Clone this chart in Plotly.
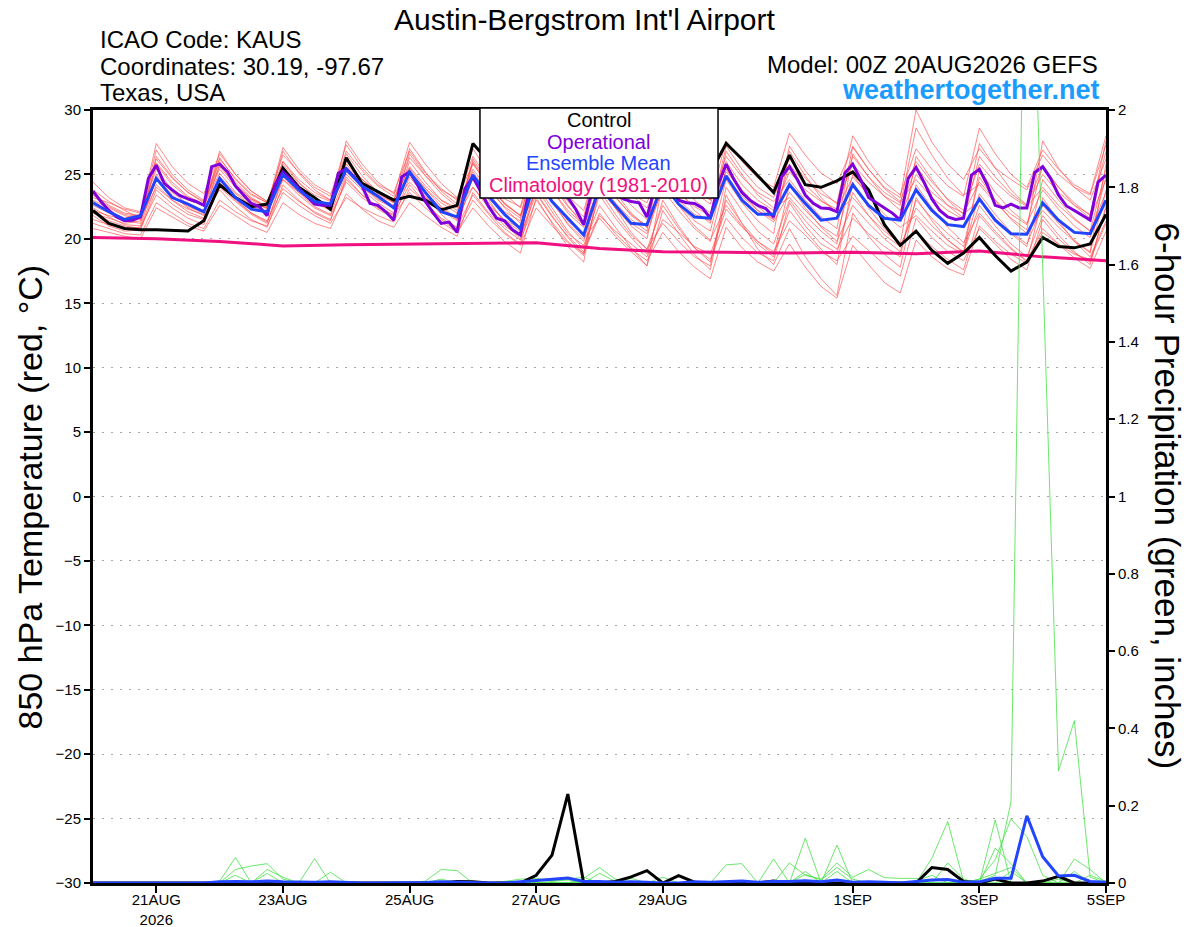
import pandas as pd
import plotly.graph_objects as go

# time axes (GEFS 6-hourly, GFS operational 3-hourly, daily climatology)
t6 = pd.date_range('2026-08-20 00:00', periods=65, freq='6h')
t3 = pd.date_range('2026-08-20 00:00', periods=129, freq='3h')
t24 = pd.date_range('2026-08-20 00:00', periods=17, freq='D')

# 850 hPa temperature (C)
control_t = [22.2, 21.2, 20.8, 20.7, 20.7, 20.65, 20.6, 21.4,
             24.2, 23.2, 22.5, 22.7, 25.5, 24.0, 23.2, 22.3,
             26.3, 24.3, 23.65, 23.0, 23.3, 23.0, 22.25, 22.6,
             27.4, 26.0, 25.0, 24.3, 26.5, 25.3, 24.6, 24.0,
             26.0, 25.0, 24.2, 23.8, 25.8, 25.0, 24.4, 25.1,
             27.4, 26.2, 24.9, 23.6, 26.5, 24.2, 24.0, 24.5,
             25.2, 23.8, 21.1, 19.5, 20.6, 19.1, 18.1, 18.9,
             20.1, 18.7, 17.5, 18.2, 20.1, 19.4, 19.3, 19.6, 21.9]

mean_t = [22.8, 22.1, 21.5, 21.8, 24.7, 23.2, 22.7, 22.1,
          24.7, 23.2, 22.3, 22.1, 25.0, 23.8, 22.9, 22.7,
          25.4, 24.1, 23.3, 22.4, 25.2, 23.6, 22.1, 21.7,
          24.95, 23.3, 21.9, 20.8, 24.8, 22.9, 21.6, 20.3,
          24.0, 22.6, 21.2, 21.1, 24.3, 22.7, 21.7, 21.6,
          24.9, 23.0, 21.9, 21.9, 24.2, 22.75, 21.45, 21.6,
          24.2, 22.6, 21.6, 21.45, 23.8, 22.2, 21.1, 20.95,
          23.1, 21.45, 20.4, 20.35, 22.8, 21.45, 20.5, 20.4, 23.0]

oper_t = [23.7, 22.9, 22.2, 21.7, 21.4, 21.45, 21.7, 24.7,
          25.7, 24.3, 23.8, 23.35, 23.1, 22.9, 22.6, 25.6,
          25.8, 25.2, 24.1, 23.4, 22.75, 22.5, 21.8, 24.2,
          25.2, 24.6, 23.9, 23.3, 22.7, 22.6, 22.6, 25.1,
          25.45, 24.8, 24.1, 22.75, 22.6, 22.1, 21.45, 24.8,
          25.2, 24.2, 22.9, 22.0, 21.2, 21.3, 20.5, 23.9,
          24.8, 23.65, 22.5, 21.6, 21.4, 20.7, 20.3, 23.4,
          25.0, 24.5, 23.9, 23.6, 23.2, 22.3, 21.1, 23.6,
          24.6, 24.2, 23.5, 23.1, 22.9, 22.8, 21.7, 24.0,
          25.0, 24.2, 23.0, 22.8, 22.75, 22.4, 21.6, 24.2,
          25.8, 24.6, 23.6, 23.0, 22.6, 22.35, 21.7, 24.8,
          25.6, 24.6, 23.4, 22.75, 22.4, 22.35, 22.1, 25.1,
          25.8, 24.6, 23.2, 22.8, 22.4, 22.0, 21.45, 24.7,
          25.55, 24.4, 23.1, 22.2, 21.7, 21.5, 21.6, 24.95,
          25.4, 24.2, 22.6, 22.4, 22.7, 22.4, 22.4, 25.15,
          25.6, 24.7, 23.4, 22.55, 22.2, 21.8, 21.45, 24.4, 24.95]

clim_t = [20.1, 20.0, 19.8, 19.45, 19.55, 19.6, 19.6, 19.7, 19.25,
          19.0, 18.95, 18.9, 18.95, 18.85, 19.05, 18.6, 18.3]

members_t = [
    [23.5, 22.6, 22.0, 21.8, 26.9, 25.0, 23.8, 23.0, 26.3, 24.6, 23.4, 22.8,
     26.5, 25.2, 24.0, 23.3, 27.3, 25.5, 24.2, 23.6, 26.8, 25.1, 23.9, 23.0,
     26.4, 24.6, 23.1, 22.5, 27.0, 25.0, 23.3, 22.2, 26.2, 24.5, 23.5, 22.8,
     25.9, 24.7, 23.8, 23.0, 27.6, 26.0, 24.7, 24.0, 28.2, 26.5, 25.1, 24.3,
     27.1, 25.4, 24.0, 23.2, 30.0, 27.5, 25.8, 24.6, 27.0, 25.5, 24.6, 23.8,
     26.5, 25.0, 24.0, 23.4, 27.3],
    [21.2, 20.8, 20.4, 20.3, 22.8, 22.0, 21.2, 20.8, 23.0, 22.1, 21.4, 21.0,
     23.6, 22.6, 21.8, 21.2, 23.2, 22.4, 21.8, 21.3, 23.9, 22.8, 21.5, 20.6,
     23.0, 21.6, 20.4, 19.5, 22.4, 21.0, 19.7, 18.9, 21.8, 20.6, 19.6, 18.6,
     21.5, 20.5, 19.4, 18.8, 22.3, 20.9, 19.8, 19.0, 21.4, 20.3, 19.0, 18.3,
     20.2, 19.1, 18.0, 17.1, 21.6, 20.1, 19.0, 18.3, 20.8, 19.6, 18.4, 17.6,
     21.5, 20.0, 18.9, 18.2, 22.4],
    [22.0, 21.4, 21.0, 20.8, 24.2, 23.0, 22.1, 21.6, 24.4, 23.1, 22.0, 21.3,
     24.8, 23.6, 22.5, 21.9, 25.0, 23.8, 22.8, 22.0, 25.5, 23.9, 22.5, 21.6,
     24.0, 22.4, 21.0, 20.2, 23.5, 21.7, 20.2, 19.0, 22.0, 20.4, 19.2, 18.3,
     20.5, 19.0, 17.8, 16.9, 20.9, 19.3, 18.2, 17.5, 19.6, 17.8, 16.3, 15.4,
     19.5, 18.0, 16.6, 15.8, 19.9, 18.6, 17.7, 17.2, 21.0, 19.8, 18.8, 18.1,
     20.5, 19.6, 18.8, 18.4, 21.2],
    [22.9, 22.2, 21.6, 21.9, 25.4, 23.8, 23.0, 22.6, 25.1, 23.6, 22.8, 22.4,
     25.8, 24.3, 23.4, 22.9, 26.2, 24.6, 23.7, 23.1, 25.6, 24.1, 23.0, 22.4,
     25.2, 23.5, 22.1, 21.4, 25.8, 23.8, 22.0, 20.9, 25.1, 23.3, 21.8, 20.9,
     24.6, 23.0, 21.9, 21.4, 26.0, 24.2, 23.0, 22.2, 25.2, 23.8, 22.9, 22.3,
     24.8, 23.4, 22.3, 21.6, 25.0, 23.6, 22.6, 22.0, 24.4, 23.0, 21.9, 21.1,
     25.7, 24.0, 22.6, 21.6, 24.6],
    [23.2, 22.8, 22.3, 22.0, 27.4, 25.6, 24.3, 23.5, 26.6, 25.0, 23.7, 22.9,
     26.0, 24.6, 23.6, 23.0, 26.8, 25.3, 24.1, 23.3, 27.5, 25.8, 24.3, 23.2,
     25.8, 24.1, 22.7, 21.8, 26.3, 24.2, 22.5, 21.3, 24.9, 23.2, 21.9, 21.0,
     26.3, 24.6, 23.0, 22.0, 25.2, 23.8, 22.5, 21.5, 27.2, 25.3, 23.8, 22.7,
     25.8, 24.4, 23.3, 22.6, 28.6, 26.5, 24.7, 23.4, 24.2, 22.8, 21.6, 20.7,
     27.6, 25.5, 24.0, 23.0, 26.2],
    [21.8, 21.0, 20.6, 20.7, 23.8, 22.7, 21.9, 21.5, 24.0, 22.9, 21.9, 21.2,
     24.6, 23.4, 22.4, 21.8, 24.4, 23.2, 22.3, 21.6, 24.8, 23.3, 21.9, 20.8,
     24.9, 23.0, 21.2, 20.0, 24.2, 22.4, 20.6, 19.2, 23.4, 21.6, 20.1, 18.8,
     23.0, 21.0, 19.3, 18.4, 21.6, 20.1, 18.9, 18.3, 22.8, 21.0, 19.6, 18.9,
     23.6, 21.8, 20.3, 19.4, 22.4, 21.0, 19.9, 19.0, 23.5, 21.9, 20.5, 19.6,
     22.6, 21.2, 19.9, 18.9, 23.8],
    [22.6, 22.0, 21.4, 21.2, 25.9, 24.4, 23.3, 22.7, 26.0, 24.4, 23.2, 22.5,
     25.4, 24.1, 23.2, 22.6, 26.0, 24.6, 23.5, 22.9, 26.3, 24.9, 23.8, 23.1,
     27.0, 25.1, 23.5, 22.4, 25.6, 23.8, 22.2, 21.1, 25.8, 24.0, 22.6, 21.5,
     26.8, 25.0, 23.6, 22.7, 26.4, 24.8, 23.6, 22.9, 24.6, 23.0, 21.7, 20.8,
     27.2, 25.4, 23.9, 22.9, 26.0, 24.4, 23.1, 22.2, 25.8, 24.4, 23.3, 22.5,
     24.0, 22.6, 21.5, 20.6, 25.4],
    [22.4, 21.7, 21.1, 21.0, 24.8, 23.4, 22.4, 21.8, 23.8, 22.5, 21.5, 20.9,
     24.2, 23.0, 22.0, 21.4, 24.8, 23.4, 22.4, 21.9, 24.2, 22.8, 21.6, 20.9,
     23.4, 21.9, 20.5, 19.6, 24.0, 22.1, 20.4, 19.5, 22.6, 20.9, 19.3, 17.9,
     22.2, 20.4, 18.8, 17.6, 23.4, 21.2, 19.2, 18.0, 20.8, 18.6, 16.9, 15.6,
     22.0, 20.2, 18.8, 17.8, 23.2, 21.4, 19.9, 18.9, 22.6, 21.0, 19.6, 18.6,
     21.8, 20.3, 19.0, 18.0, 22.6],
    [24.4, 23.2, 22.4, 22.1, 26.2, 24.7, 23.6, 22.9, 25.6, 24.2, 23.1, 22.5,
     27.1, 25.4, 24.2, 23.5, 25.6, 24.3, 23.4, 22.8, 27.0, 25.2, 23.7, 22.7,
     25.4, 23.8, 22.5, 21.6, 26.6, 24.6, 22.9, 21.7, 26.9, 25.0, 23.4, 22.4,
     25.0, 23.6, 22.5, 21.8, 27.2, 25.4, 24.0, 23.2, 26.2, 24.7, 23.5, 22.8,
     28.0, 26.0, 24.4, 23.4, 27.0, 25.4, 24.1, 23.3, 28.6, 26.6, 25.0, 24.0,
     26.9, 25.4, 24.2, 23.5, 28.0],
    [20.8, 20.5, 20.2, 20.0, 22.4, 21.7, 21.0, 20.6, 22.6, 21.8, 21.0, 20.5,
     22.8, 21.9, 21.2, 20.8, 23.5, 22.3, 21.4, 20.9, 22.8, 21.8, 20.9, 20.2,
     23.6, 22.0, 20.8, 19.9, 23.0, 21.3, 19.8, 18.7, 23.8, 21.9, 20.3, 19.2,
     21.2, 19.8, 18.6, 17.9, 24.0, 22.2, 20.6, 19.6, 23.0, 21.4, 20.1, 19.2,
     21.6, 20.4, 19.4, 18.6, 24.2, 22.4, 20.9, 19.7, 22.0, 20.6, 19.3, 18.2,
     23.2, 21.4, 19.8, 18.6, 21.4],
    [23.8, 22.9, 22.2, 21.6, 25.0, 23.6, 22.7, 22.2, 26.8, 25.0, 23.7, 22.9,
     25.0, 23.8, 22.9, 22.3, 27.6, 25.8, 24.4, 23.5, 25.2, 23.9, 22.8, 22.0,
     26.0, 24.2, 22.7, 21.8, 24.8, 23.0, 21.4, 20.3, 24.4, 22.8, 21.5, 20.6,
     27.4, 25.6, 24.1, 23.0, 24.8, 23.3, 22.2, 21.5, 25.8, 24.2, 23.0, 22.1,
     26.4, 24.8, 23.6, 22.8, 24.6, 23.2, 22.2, 21.5, 26.4, 24.8, 23.5, 22.6,
     25.0, 23.6, 22.6, 21.9, 26.8],
    [22.0, 21.6, 21.2, 21.4, 24.6, 23.3, 22.5, 22.0, 24.8, 23.5, 22.6, 22.0,
     26.0, 24.4, 23.2, 22.5, 25.2, 24.0, 23.0, 22.4, 26.0, 24.4, 23.0, 22.2,
     24.6, 22.8, 21.4, 20.6, 25.0, 23.0, 21.1, 19.8, 23.9, 22.4, 21.2, 20.4,
     24.0, 22.6, 21.4, 20.6, 25.4, 23.6, 22.2, 21.3, 23.6, 22.2, 21.0, 20.2,
     25.0, 23.3, 21.9, 20.9, 21.8, 20.6, 19.5, 18.8, 25.4, 23.6, 22.2, 21.2,
     23.8, 22.3, 21.0, 20.1, 24.8],
    [23.0, 22.4, 21.8, 21.5, 26.4, 24.8, 23.6, 22.8, 25.4, 24.0, 23.0, 22.3,
     26.8, 25.1, 23.8, 23.0, 25.8, 24.4, 23.3, 22.6, 25.0, 23.6, 22.4, 21.5,
     25.9, 24.0, 22.4, 21.2, 23.6, 21.8, 20.1, 18.8, 25.4, 23.6, 22.0, 20.9,
     23.8, 22.2, 20.8, 19.8, 24.6, 22.8, 21.4, 20.4, 26.8, 24.9, 23.2, 22.0,
     23.2, 21.8, 20.6, 19.6, 26.4, 24.6, 23.0, 21.9, 23.0, 21.6, 20.4, 19.4,
     24.6, 23.0, 21.6, 20.6, 23.6],
    [21.5, 21.1, 20.8, 20.9, 23.4, 22.4, 21.6, 21.1, 24.2, 23.0, 22.0, 21.4,
     23.9, 22.9, 22.1, 21.5, 24.6, 23.4, 22.5, 21.8, 23.6, 22.4, 21.3, 20.5,
     22.4, 21.0, 19.8, 18.9, 23.2, 21.2, 19.4, 18.2, 24.6, 22.4, 20.5, 19.2,
     22.6, 20.8, 19.3, 18.2, 23.0, 21.2, 19.8, 18.8, 22.2, 20.6, 19.2, 18.0,
     24.4, 22.4, 20.8, 19.5, 20.6, 19.4, 18.4, 17.6, 21.8, 20.4, 19.2, 18.3,
     20.8, 19.6, 18.5, 17.7, 20.6],
    [23.4, 22.5, 21.9, 21.7, 25.8, 24.2, 23.2, 22.6, 26.2, 24.7, 23.5, 22.8,
     24.6, 23.6, 22.8, 22.2, 25.4, 24.1, 23.1, 22.5, 26.6, 24.9, 23.5, 22.5,
     24.0, 22.6, 21.5, 20.8, 26.8, 24.6, 22.6, 21.0, 24.0, 22.4, 21.0, 20.0,
     25.6, 23.8, 22.2, 21.2, 26.8, 25.0, 23.4, 22.4, 23.2, 21.8, 20.6, 19.6,
     26.6, 24.8, 23.3, 22.2, 25.6, 24.0, 22.6, 21.6, 27.4, 25.5, 23.8, 22.6,
     25.6, 24.0, 22.8, 21.8, 27.6],
    [22.2, 21.8, 21.5, 21.6, 24.0, 23.0, 22.3, 21.9, 25.8, 24.2, 23.1, 22.4,
     25.2, 24.0, 23.0, 22.3, 26.6, 24.9, 23.6, 22.8, 24.4, 23.2, 22.2, 21.4,
     26.2, 24.3, 22.8, 21.8, 24.6, 22.8, 21.2, 20.0, 21.6, 20.2, 19.0, 17.9,
     24.4, 22.6, 21.0, 19.9, 22.6, 21.0, 19.6, 18.6, 24.2, 22.4, 20.9, 19.8,
     22.6, 21.2, 20.0, 19.0, 23.0, 21.6, 20.4, 19.4, 24.8, 23.0, 21.5, 20.4,
     22.2, 20.9, 19.8, 19.0, 25.8],
]

# 6-hour precipitation (inches)
control_p = [0, 0, 0, 0, 0, 0, 0, 0, 0, 0, 0, 0, 0, 0, 0, 0,
             0, 0, 0, 0, 0, 0, 0, 0.004, 0.003, 0, 0, 0, 0.02, 0.072, 0.23, 0,
             0, 0.004, 0.016, 0.032, 0, 0.019, 0.002, 0, 0, 0, 0, 0.005, 0, 0, 0, 0,
             0, 0, 0, 0, 0, 0.04, 0.035, 0.004, 0, 0.01, 0, 0, 0.005, 0.017, 0, 0, 0]

mean_p = [0, 0, 0, 0, 0, 0, 0, 0, 0.003, 0.004, 0.003, 0.005, 0.003, 0.002, 0.002, 0.003,
          0.001, 0, 0, 0, 0, 0.001, 0.003, 0.002, 0, 0, 0, 0.003, 0.007, 0.01, 0.013, 0.004,
          0.004, 0.002, 0.003, 0.002, 0, 0, 0.003, 0.002, 0.004, 0.005, 0.002, 0.004, 0.004, 0.006, 0.003, 0.008,
          0.002, 0.003, 0.002, 0, 0.004, 0.008, 0.009, 0.002, 0.003, 0.012, 0.012, 0.174, 0.068, 0.018, 0.02, 0.004, 0.002]

members_p = [
    [0, 0, 0, 0, 0, 0, 0, 0, 0.005, 0.066, 0, 0, 0, 0, 0.063, 0,
     0, 0, 0, 0, 0, 0.005, 0.035, 0.032, 0, 0, 0, 0, 0, 0, 0, 0,
     0, 0, 0, 0, 0, 0, 0, 0, 0, 0, 0, 0, 0, 0.116, 0, 0,
     0, 0, 0, 0, 0, 0, 0, 0, 0, 0.163, 0, 0, 0, 0, 0, 0, 0],
    [0, 0, 0, 0, 0, 0, 0, 0, 0, 0.035, 0.044, 0.05, 0.01, 0, 0, 0.028,
     0, 0, 0, 0, 0, 0, 0, 0, 0, 0, 0, 0, 0, 0, 0, 0.012,
     0.04, 0.01, 0, 0, 0, 0, 0, 0, 0.047, 0.05, 0, 0, 0, 0, 0, 0,
     0, 0, 0, 0, 0, 0.064, 0.159, 0.004, 0, 0, 0, 0, 0, 0, 0.062, 0.035, 0],
    [0, 0, 0, 0, 0, 0, 0, 0, 0, 0, 0, 0.035, 0.015, 0, 0, 0,
     0, 0, 0, 0, 0, 0, 0.01, 0, 0, 0, 0.004, 0.01, 0.012, 0.006, 0.01, 0.015,
     0, 0, 0, 0, 0, 0, 0, 0, 0, 0, 0, 0.062, 0, 0, 0, 0.098,
     0, 0, 0, 0, 0, 0, 0, 0, 0.01, 0.06, 0.166, 0.12, 0.02, 0, 0, 0, 0],
    [0, 0, 0, 0, 0, 0, 0, 0, 0, 0, 0, 0, 0, 0, 0, 0,
     0, 0, 0, 0, 0, 0, 0, 0, 0, 0, 0, 0, 0, 0, 0, 0,
     0, 0, 0, 0, 0, 0, 0, 0, 0, 0, 0, 0, 0, 0, 0, 0,
     0, 0, 0, 0, 0, 0, 0, 0.006, 0.004, 0.02, 0.21, 2.9, 1.6, 0.29, 0.42, 0.015, 0],
    [0, 0, 0, 0, 0, 0, 0, 0, 0, 0, 0, 0, 0, 0, 0, 0,
     0, 0, 0, 0, 0, 0, 0, 0, 0, 0, 0, 0, 0, 0, 0, 0,
     0, 0, 0, 0, 0, 0, 0, 0, 0, 0, 0, 0, 0.052, 0.02, 0.01, 0.052,
     0.015, 0.035, 0.014, 0.012, 0.012, 0, 0.052, 0.01, 0, 0, 0.03, 0, 0, 0, 0, 0, 0],
    [0, 0, 0, 0, 0, 0, 0, 0, 0, 0.02, 0, 0.025, 0, 0, 0, 0,
     0, 0, 0, 0, 0, 0, 0, 0, 0, 0, 0, 0, 0, 0, 0, 0,
     0, 0, 0.012, 0, 0.015, 0, 0, 0, 0, 0, 0, 0, 0, 0.022, 0.008, 0.04,
     0.01, 0, 0, 0, 0, 0, 0, 0, 0, 0.09, 0.05, 0, 0, 0.01, 0, 0.02, 0.004],
    [0, 0, 0, 0, 0, 0, 0, 0, 0, 0, 0, 0, 0, 0, 0, 0,
     0, 0, 0, 0, 0, 0, 0, 0, 0, 0, 0, 0, 0, 0.004, 0.008, 0,
     0.025, 0.004, 0, 0, 0, 0, 0, 0, 0, 0, 0, 0, 0, 0.03, 0, 0.03,
     0, 0, 0, 0, 0.005, 0.02, 0, 0, 0.01, 0.025, 0.04, 0, 0, 0, 0.03, 0, 0],
]

tick_days = ['2026-08-21', '2026-08-23', '2026-08-25', '2026-08-27',
             '2026-08-29', '2026-09-01', '2026-09-03', '2026-09-05']
tick_text = ['21AUG<br>2026', '23AUG', '25AUG', '27AUG',
             '29AUG', '1SEP', '3SEP', '5SEP']

RED = 'rgba(255,70,70,0.8)'
GREEN = 'rgb(70,225,70)'
BLACK = 'black'
PURPLE = '#8000dc'
BLUE = '#2244ff'
PINK = '#f0107f'

fig = go.Figure()

for m in members_t:
    fig.add_trace(go.Scatter(x=t6, y=m, mode='lines', line=dict(color=RED, width=0.8),
                             hoverinfo='skip'))

for m in members_p:
    fig.add_trace(go.Scatter(x=t6, y=m, mode='lines', line=dict(color=GREEN, width=0.8),
                             yaxis='y2', hoverinfo='skip'))

fig.add_trace(go.Scatter(x=t24, y=clim_t, mode='lines', line=dict(color=PINK, width=3), name='Climatology'))
fig.add_trace(go.Scatter(x=t6, y=control_t, mode='lines', line=dict(color=BLACK, width=3), name='Control'))
fig.add_trace(go.Scatter(x=t3, y=oper_t, mode='lines', line=dict(color=PURPLE, width=3), name='Operational'))
fig.add_trace(go.Scatter(x=t6, y=mean_t, mode='lines', line=dict(color=BLUE, width=3), name='Ensemble Mean'))
fig.add_trace(go.Scatter(x=t6, y=control_p, mode='lines', line=dict(color=BLACK, width=3), yaxis='y2'))
fig.add_trace(go.Scatter(x=t6, y=mean_p, mode='lines', line=dict(color=BLUE, width=3), yaxis='y2'))

FONT = 'Liberation Sans, Arial, Helvetica, sans-serif'

fig.update_layout(
    width=1200, height=927,
    margin=dict(l=93, r=94, t=110, b=44),
    paper_bgcolor='white', plot_bgcolor='white',
    showlegend=False,
    font=dict(family=FONT, color='black', size=16),
    xaxis=dict(type='date', range=[t6[0], t6[-1]], automargin=False,
               tickvals=tick_days, ticktext=tick_text,
               ticks='outside', ticklen=7, tickwidth=2, tickcolor='black',
               ticklabelstandoff=-6,
               showline=True, linewidth=3, linecolor='black', mirror=True,
               showgrid=False, zeroline=False, tickfont=dict(size=15)),
    yaxis=dict(range=[-30, 30], tickvals=list(range(-30, 31, 5)), automargin=False,
               ticks='outside', ticklen=6, tickwidth=2, tickcolor='black',
               showline=True, linewidth=3, linecolor='black',
               showgrid=True, gridcolor='#a8a8a8', gridwidth=1, griddash='2px,7px',
               zeroline=False, tickfont=dict(size=15)),
    yaxis2=dict(range=[0, 2], overlaying='y', side='right', automargin=False,
                tickvals=[0, 0.2, 0.4, 0.6, 0.8, 1, 1.2, 1.4, 1.6, 1.8, 2],
                ticks='outside', ticklen=6, tickwidth=2, tickcolor='black',
                showline=True, linewidth=3, linecolor='black',
                showgrid=False, zeroline=False, tickfont=dict(size=15)),
)

# legend box
fig.add_shape(type='rect', xref='paper', yref='paper', x0=0.382, x1=0.617, y0=0.886, y1=1.0026,
              fillcolor='white', line=dict(color='black', width=1.5), layer='above')

legend_items = [('Control', BLACK, 0.987), ('Operational', PURPLE, 0.9586),
                ('Ensemble Mean', BLUE, 0.9314), ('Climatology (1981-2010)', PINK, 0.903)]
for txt, col, yy in legend_items:
    fig.add_annotation(text=txt, xref='paper', yref='paper', x=0.4995, y=yy,
                       showarrow=False, font=dict(size=20, color=col), xanchor='center', yanchor='middle')

# header texts
fig.add_annotation(text="Austin-Bergstrom Int'l Airport", xref='paper', yref='paper', x=0.4857, y=1.141,
                   showarrow=False, font=dict(size=30), xanchor='center', yanchor='top')
for txt, yy in [('ICAO Code: KAUS', 1.0906), ('Coordinates: 30.19, -97.67', 1.0569), ('Texas, USA', 1.022)]:
    fig.add_annotation(text=txt, xref='paper', yref='paper', x=0.005, y=yy,
                       showarrow=False, font=dict(size=24), xanchor='left', yanchor='middle')
fig.add_annotation(text='Model: 00Z 20AUG2026 GEFS', xref='paper', yref='paper', x=0.994, y=1.0595,
                   showarrow=False, font=dict(size=24), xanchor='right', yanchor='middle')
fig.add_annotation(text='<b>weathertogether.net</b>', xref='paper', yref='paper', x=0.996, y=1.0259,
                   showarrow=False, font=dict(size=27, color='#1a9cff'), xanchor='right', yanchor='middle')

# axis titles
fig.add_annotation(text='850 hPa Temperature (red, °C)', xref='paper', yref='paper', x=-0.0622, y=0.5,
                   showarrow=False, textangle=-90, font=dict(size=34), xanchor='center', yanchor='middle')
fig.add_annotation(text='6-hour Precipitation (green, inches)', xref='paper', yref='paper', x=1.0612, y=0.5,
                   showarrow=False, textangle=90, font=dict(size=35), xanchor='center', yanchor='middle')

# drop the default 8px page margin so the figure sits at the window's corner
fig.write_html('out.html', config={'displayModeBar': False},
               post_script="document.body.style.margin = '0';")
